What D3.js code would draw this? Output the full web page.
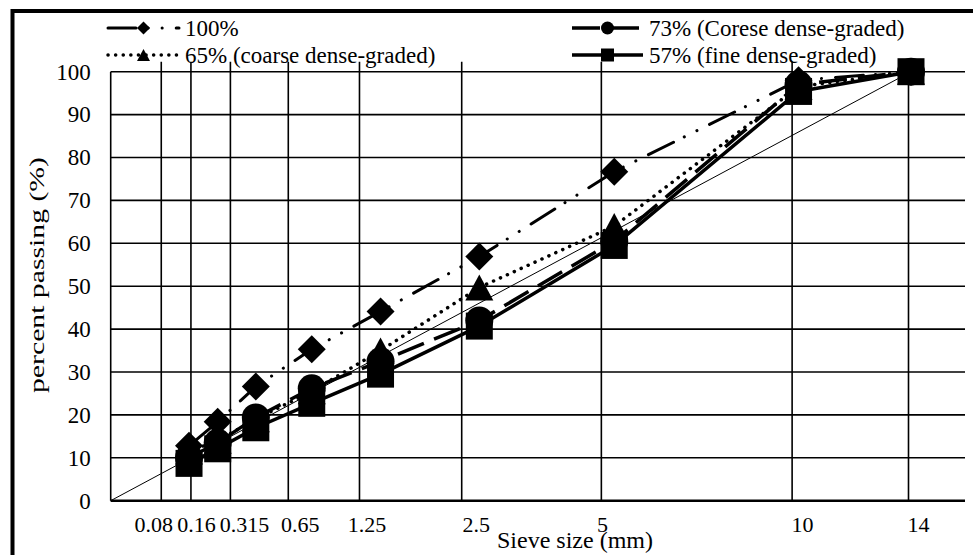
<!DOCTYPE html>
<html>
<head>
<meta charset="utf-8">
<script src="https://cdn.jsdelivr.net/npm/d3@7"></script>
<style>
  html, body { margin: 0; padding: 0; background: #fff; }
  svg { display: block; font-family: "Liberation Serif", "Times New Roman", serif; }
</style>
</head>
<body>
<svg id="chart" width="973" height="555"></svg>
<script>
// Sieve sizes (mm) and their printed labels
const sieveSizes  = [0.08, 0.16, 0.315, 0.65, 1.25, 2.5, 5, 10, 14];
const sieveLabels = ["0.08", "0.16", "0.315", "0.65", "1.25", "2.5", "5", "10", "14"];

// Percent passing for each blend
const passing100 = [12.8, 18.4, 26.6, 35.3, 44.1, 56.9, 76.7, 98.0, 100];
const passing73  = [10.0, 13.5, 19.4, 26.2, 32.5, 42.0, 60.5, 97.0, 100];
const passing65  = [11.5, 14.0, 19.0, 25.5, 35.0, 49.7, 64.0, 96.5, 100];
const passing57  = [ 8.7, 12.1, 17.0, 22.7, 29.5, 40.7, 59.5, 95.4, 100];

const seriesNames = ["100%", "73% (Corese dense-graded)", "65% (coarse dense-graded)", "57% (fine dense-graded)"];

// Y axis ticks
const yTicks = [0, 10, 20, 30, 40, 50, 60, 70, 80, 90, 100];

// Maximum density line: origin to the nominal maximum size
const maxDensitySizes   = [0, 14];
const maxDensityPassing = [0, 100];

// ---------- layout ----------
const plot = { left: 110.7, right: 965, top: 71.7, bottom: 500.7 };
const svg = d3.select("#chart");

// 0.45-power gradation scale for the curves
const x = d3.scalePow().exponent(0.45).domain([0, 14]).range([plot.left, plot.left + 800.3]);
// the printed grid sits on a slightly shifted 0.45-power scale
const xGrid = d3.scalePow().exponent(0.45).domain([0, 14]).range([plot.left - 30.5, plot.left + 797.8]);
const y = d3.scaleLinear().domain([0, 100]).range([plot.bottom, plot.top]);

// small horizontal nudges of the hand-set sieve labels
const labelNudge = [-8, 5, 13.7, 11.4, 7, 14, 0.7, 10, 9.5];

// outer frame (left and top edges)
svg.append("path")
  .attr("d", "M12.5,555 V11 H973")
  .attr("fill", "none").attr("stroke", "#000").attr("stroke-width", 4);

// ---------- grid ----------
const grid = svg.append("g").attr("stroke", "#000");
grid.selectAll("line.h").data(yTicks).join("line")
  .attr("class", "h")
  .attr("x1", plot.left).attr("x2", plot.right)
  .attr("y1", d => y(d)).attr("y2", d => y(d))
  .attr("stroke-width", d => d === 0 ? 2.4 : 1.6);
grid.selectAll("line.v").data(sieveSizes).join("line")
  .attr("class", "v")
  .attr("x1", d => xGrid(d)).attr("x2", d => xGrid(d))
  .attr("y1", plot.top - 10).attr("y2", plot.bottom)
  .attr("stroke-width", 1.6);
grid.append("line")
  .attr("x1", plot.left).attr("x2", plot.left)
  .attr("y1", plot.top).attr("y2", plot.bottom)
  .attr("stroke-width", 1.6);

// ---------- axes ----------
const yAxis = svg.append("g")
  .attr("transform", `translate(${plot.left},0)`)
  .call(d3.axisLeft(y).tickValues(yTicks).tickSize(0).tickPadding(20).tickFormat(d3.format("d")));
yAxis.select(".domain").remove();
yAxis.attr("font-family", null).attr("font-size", null);
yAxis.selectAll("text").attr("font-size", 23).attr("fill", "#000");

const xAxis = svg.append("g")
  .attr("transform", "translate(0,532)")
  .call(d3.axisBottom(xGrid).tickValues(sieveSizes).tickSize(0)
    .tickFormat((d, i) => sieveLabels[i]));
xAxis.select(".domain").remove();
xAxis.attr("font-family", null).attr("font-size", null);
xAxis.selectAll("text")
  .attr("y", 0).attr("dy", 0)
  .attr("dx", (d, i) => labelNudge[i])
  .attr("font-size", 22).attr("fill", "#000");

// axis titles
svg.append("text")
  .attr("transform", "translate(44,275) rotate(-90)")
  .attr("text-anchor", "middle")
  .attr("font-size", 22)
  .attr("textLength", 236).attr("lengthAdjust", "spacingAndGlyphs")
  .text("percent passing (%)");
svg.append("text")
  .attr("x", 497).attr("y", 548)
  .attr("font-size", 24)
  .text("Sieve size (mm)");

// ---------- maximum density line ----------
svg.append("path")
  .datum(maxDensitySizes.map((s, i) => [s, maxDensityPassing[i]]))
  .attr("d", d3.line().x(d => x(d[0])).y(d => y(d[1])))
  .attr("fill", "none").attr("stroke", "#000").attr("stroke-width", 1);

// ---------- marker shapes ----------
const markSquare = { draw(ctx, size) { const h = Math.sqrt(size) / 2; ctx.rect(-h, -h, 2 * h, 2 * h); } };
const markDiamond = { draw(ctx, size) { const r = Math.sqrt(size) / 2; ctx.moveTo(0, -r); ctx.lineTo(r, 0); ctx.lineTo(0, r); ctx.lineTo(-r, 0); ctx.closePath(); } };
const markTriangle = { draw(ctx, size) { const w = Math.sqrt(size) / 2; const h = w * 0.93; ctx.moveTo(0, -h); ctx.lineTo(w, h); ctx.lineTo(-w, h); ctx.closePath(); } };
const markCircle = { draw(ctx, size) { const r = Math.sqrt(size) / 2; ctx.moveTo(r, 0); ctx.arc(0, 0, r, 0, 2 * Math.PI); } };

const series = [
  { name: seriesNames[0], values: passing100, shape: markDiamond,  size: 28, width: 3,   dash: "28,12,0.1,14,0.1,14", cap: "round" },
  { name: seriesNames[1], values: passing73,  shape: markCircle,   size: 28, width: 3.5, dash: "28,11",               cap: "butt" },
  { name: seriesNames[2], values: passing65,  shape: markTriangle, size: 28, width: 3.5, dash: "0.1,7.5",             cap: "round" },
  { name: seriesNames[3], values: passing57,  shape: markSquare,   size: 27, width: 3.5, dash: null,                  cap: "butt" }
];

const line = d3.line().x(d => x(d[0])).y(d => y(d[1]));

series.forEach(s => {
  const pts = sieveSizes.map((sz, i) => [sz, s.values[i]]);
  const g = svg.append("g");
  g.append("path").datum(pts)
    .attr("d", line)
    .attr("fill", "none").attr("stroke", "#000")
    .attr("stroke-width", s.width)
    .attr("stroke-dasharray", s.dash)
    .attr("stroke-linecap", s.cap)
    .attr("stroke-linejoin", "round");
  g.selectAll("path.m").data(pts).join("path")
    .attr("class", "m")
    .attr("transform", d => `translate(${x(d[0])},${y(d[1])})`)
    .attr("d", d3.symbol().type(s.shape).size(s.size * s.size))
    .attr("fill", "#000");
});

// ---------- legend ----------
const legendCols = [108, 572];
const legendRows = [28, 55];
const sampleW = 71;
series.forEach((s, i) => {
  const lx = legendCols[i % 2], ly = legendRows[Math.floor(i / 2)];
  const g = svg.append("g").attr("transform", `translate(${lx},${ly})`);
  g.append("line")
    .attr("x1", 0).attr("x2", sampleW).attr("y1", 0).attr("y2", 0)
    .attr("stroke", "#000").attr("stroke-width", s.width)
    .attr("stroke-dasharray", s.dash).attr("stroke-linecap", s.cap);
  g.append("path")
    .attr("transform", `translate(${sampleW / 2},0)`)
    .attr("d", d3.symbol().type(s.shape).size(13 * 13))
    .attr("fill", "#000");
  g.append("text")
    .attr("x", sampleW + 6).attr("y", 7.5)
    .attr("font-size", 23).attr("fill", "#000")
    .text(s.name);
});
</script>
</body>
</html>
